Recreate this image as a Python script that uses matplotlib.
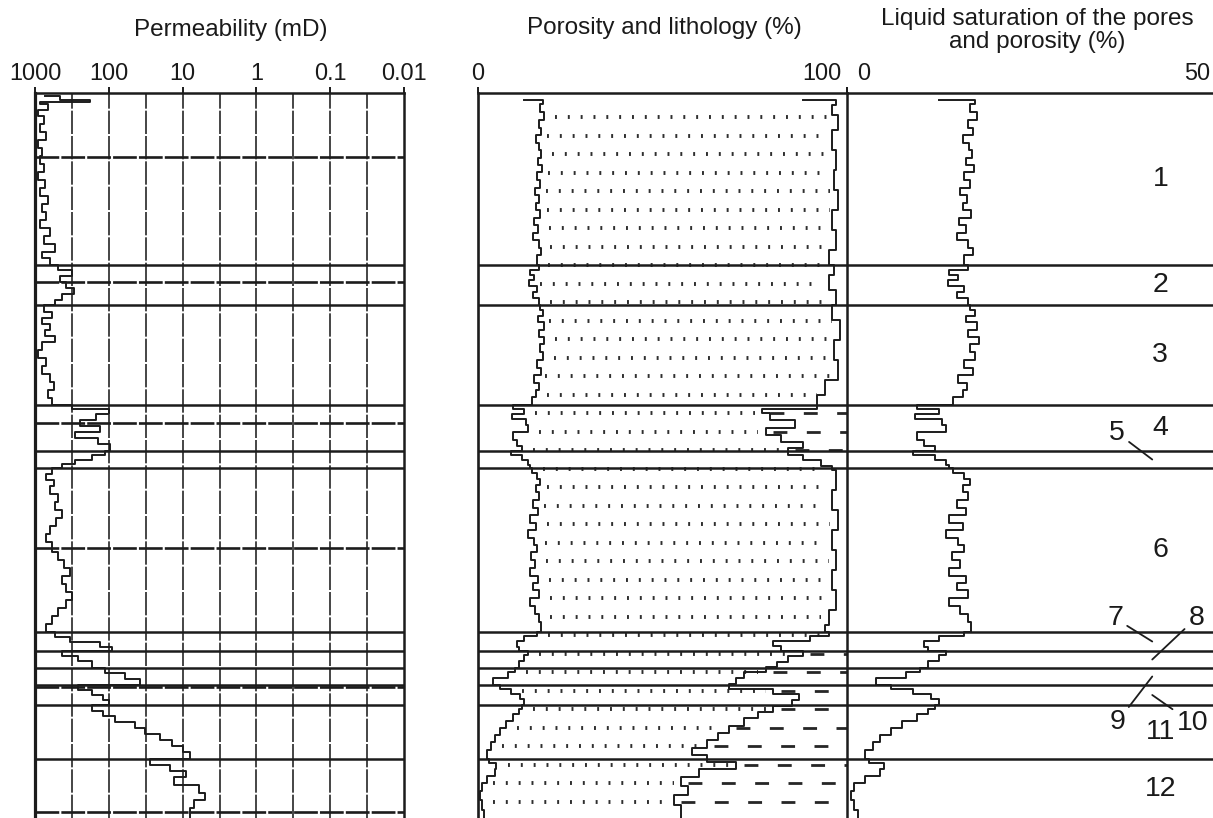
import numpy as np
import matplotlib
matplotlib.use("Agg")
import matplotlib.pyplot as plt
from matplotlib.ticker import NullLocator

plt.rcParams['font.family'] = ['Liberation Sans', 'DejaVu Sans']

# ------------------------------------------------------------------ data
perm_ticks = [1000, 100, 10, 1, 0.1, 0.01]
perm_tick_labels = ["1000", "100", "10", "1", "0.1", "0.01"]
por_ticks = [0, 100]
sat_ticks = [0, 50]

zone_names = ["1", "2", "3", "4", "5", "6", "7", "8", "9", "10", "11", "12"]
zone_tops = [0.0, 17.2, 21.2, 31.2, 35.8, 37.5, 53.9, 55.8, 57.5, 59.2, 61.2, 66.6]
zone_bottom = 72.5

# permeability log (mD) vs depth
perm_depth = [0.3, 0.7, 0.9, 1.1, 1.7, 2.3, 3.1, 3.9, 4.7, 5.5, 6.3, 7.1, 7.9, 8.7,
              9.5, 10.3, 11.1, 11.9, 12.7, 13.5, 14.3, 15.1, 15.9, 16.5, 17.2,
              17.7, 18.3, 18.9, 19.5, 20.1, 20.7, 21.2,
              21.9, 22.5, 23.1, 23.7, 24.3, 24.9, 25.7, 26.5, 27.3, 28.1, 28.9,
              29.7, 30.5, 31.2,
              31.6, 32.1, 32.7, 33.3, 33.9, 34.5, 35.1, 35.8,
              36.2, 36.7, 37.1, 37.5,
              38.1, 38.7, 39.3, 40.1, 40.9, 41.7, 42.5, 43.3, 44.1, 44.9, 45.9,
              46.7, 47.5, 48.3, 49.1, 49.9, 50.7, 51.5, 52.3, 53.1, 53.9,
              54.4, 54.9, 55.4, 55.8,
              56.3, 56.8, 57.5,
              58.0, 58.6, 59.2,
              59.7, 60.2, 60.7, 61.2,
              61.8, 62.3, 62.9, 63.5, 64.1, 64.7, 65.3, 65.9, 66.6,
              67.2, 67.8, 68.4, 69.2, 70.0, 70.7, 71.5, 72.5]
perm_md = [732, 458, 180, 855, 667, 910, 760, 855, 710, 910, 804, 855, 760, 910,
           732, 855, 667, 804, 710, 855, 627, 760, 536, 804, 627,
           488, 315, 458, 380, 296, 430, 536,
           760, 590, 804, 627, 732, 536, 804, 910, 710, 804, 627,
           550, 667, 590,
           315, 100, 150, 245, 132, 287, 140, 96,
           112, 170, 287, 430,
           590, 710, 550, 627, 488, 536, 430, 520, 627, 710, 590,
           488, 400, 336, 430, 380, 315, 380, 488, 590, 710,
           536, 336, 132, 90,
           430, 260, 170,
           112, 60, 38,
           260, 170, 120, 100,
           170, 120, 82, 44, 32, 20, 14, 10, 8,
           28, 15, 9, 13, 6, 5, 7, 8]
# depths of impermeable samples (drawn across the whole permeability track)
tight_depth = [6.4, 18.9, 33.0, 45.5, 59.4, 71.9]

# porosity (%) vs depth
phi_depth = [0.7, 1.1, 1.9, 2.7, 3.5, 4.2, 5.0, 5.7, 6.5, 7.2, 7.9, 8.7, 9.5, 10.2,
             11.0, 11.7, 12.5, 13.2, 14.0, 14.7, 15.5, 16.2, 17.2,
             17.7, 18.2, 18.7, 19.3, 19.9, 20.5, 21.2,
             21.7, 22.3, 22.9, 23.7, 24.4, 25.1, 25.9, 26.7, 27.5, 28.2, 29.0,
             29.7, 30.4, 31.2,
             31.6, 32.1, 32.6, 33.2, 33.9, 34.7, 35.3, 35.8,
             36.2, 36.7, 37.2, 37.5,
             38.0, 38.6, 39.2, 39.9, 40.7, 41.5, 42.2, 43.0, 43.7, 44.5, 45.2,
             45.9, 46.7, 47.5, 48.3, 49.0, 49.7, 50.5, 51.3, 52.1, 52.9, 53.9,
             54.3, 54.8, 55.4, 55.8,
             56.2, 56.8, 57.5,
             57.9, 58.5, 59.2,
             59.6, 60.1, 60.6, 61.2,
             61.6, 62.1, 62.8, 63.5, 64.2, 64.9, 65.7, 66.6,
             67.0, 67.6, 68.3, 69.0, 69.8, 70.7, 71.7, 72.5]
phi_pct = [12.5, 17.5, 16.8, 17.8, 16.5, 17.2, 15.8, 16.6, 17.1, 16.2, 17.3, 16.0,
           16.8, 15.5, 16.4, 15.8, 16.9, 15.3, 16.2, 15.0, 16.5, 17.2, 16.0,
           16.5, 14.0, 15.2, 13.8, 16.0, 15.0, 16.5,
           16.8, 17.5, 16.2, 17.8, 16.5, 18.0, 16.8, 17.5, 16.0, 17.2, 15.2,
           16.4, 15.8, 14.5,
           9.5, 12.5, 9.3, 13.0, 13.5, 9.5, 10.5, 12.0,
           9.0, 12.0, 13.5, 14.0,
           14.5, 16.0, 16.8, 15.8, 16.5, 15.0, 16.2, 14.0, 15.8, 13.5, 15.2,
           16.0, 14.3, 15.5, 14.0, 16.2, 15.0, 16.5, 14.0, 15.5, 16.5, 17.0,
           16.0, 12.5, 10.5, 11.0,
           13.5, 12.5, 11.0,
           10.0, 8.0, 4.0,
           6.0, 9.0, 11.5, 12.5,
           12.0, 11.0, 9.5, 7.5, 6.0, 4.5, 3.5, 2.5,
           3.0, 5.0, 4.5, 2.5, 1.0, 0.5, 1.0, 1.5]

# limit between sandstone and clay (%) vs depth
clay_depth = [0.7, 1.2, 2.2, 3.7, 5.7, 7.7, 9.7, 11.7, 13.7, 15.7, 17.2,
              18.2, 19.7, 21.2, 22.7, 24.7, 26.7, 28.7, 30.2, 31.2,
              31.6, 32.0, 32.7, 33.5, 34.2, 34.9, 35.5,
              36.2, 36.7, 37.3,
              37.7, 39.7, 41.7, 43.7, 45.7, 47.7, 49.7, 51.7, 53.2, 53.9,
              54.3, 54.8, 55.3, 55.8,
              56.3, 56.9, 57.4,
              57.9, 58.5, 59.1,
              59.6, 60.1, 60.7, 61.3,
              61.9, 62.5, 63.3, 64.0, 64.7, 65.5, 66.2,
              66.9, 67.6, 68.4, 69.3, 70.2, 71.2, 72.5]
sand_limit_pct = [88, 97, 96, 97.5, 96, 97, 96.5, 97.5, 96, 97, 95,
                  96.5, 95, 97, 96, 98, 96.5, 97.5, 94, 92,
                  92, 77, 79, 86, 78, 82, 88,
                  84, 88, 93,
                  96, 97, 96, 97.5, 96, 97, 96, 97, 95, 94,
                  95, 90, 80, 82,
                  88, 84, 81,
                  78, 72, 70,
                  68, 80, 87, 85,
                  80, 76, 72, 68, 65, 62, 58,
                  62, 70, 60, 55, 57, 53, 55]

# ------------------------------------------------------------------ figure
W, H = 1213, 818
fig = plt.figure(figsize=(W / 100, H / 100), dpi=100)
fig.patch.set_facecolor('white')


def rect(x0, x1, y0=93, y1=818):
    return [x0 / W, 1 - y1 / H, (x1 - x0) / W, (y1 - y0) / H]


def fx(px):
    return px / W


def fy(py):
    return 1 - py / H


ax_k = fig.add_axes(rect(35, 404))
ax_p = fig.add_axes(rect(478, 847), sharey=ax_k)
ax_s = fig.add_axes(rect(847, 1213), sharey=ax_k)

ink = '#1c1c1c'
curve_kw = dict(drawstyle='steps-post', color=ink, lw=1.4)

# permeability track
ax_k.set_xscale('log')
ax_k.set_xlim(1000, 0.01)
ax_k.set_ylim(zone_bottom, 0)
ax_k.xaxis.set_minor_locator(NullLocator())
grid_kw = dict(color='#262626', lw=1.2, linestyle=(0, (14, 1.2)), zorder=1)
for t in perm_ticks[1:-1]:
    ax_k.axvline(t, **grid_kw)
for a, b in zip(perm_ticks[:-1], perm_ticks[1:]):
    ax_k.axvline(np.sqrt(a * b), **grid_kw)
ax_k.hlines(tight_depth, perm_ticks[0], perm_ticks[-1], color=ink, lw=1.9,
            linestyle=(0, (9, 0.8)), zorder=3)
ax_k.plot(perm_md, perm_depth, zorder=4, **curve_kw)

# porosity & lithology track
ax_p.set_xlim(por_ticks[0], por_ticks[-1])


def step_value(depths, values, d):
    idx = np.clip(np.searchsorted(depths, d, side='left'), 0, len(values) - 1)
    return np.asarray(values, dtype=float)[idx]


row_depths = np.arange(2.4, zone_bottom, 1.85)
for rd in row_depths:
    phi = step_value(phi_depth, phi_pct, rd)
    lim = step_value(clay_depth, sand_limit_pct, rd)
    ax_p.plot([phi + 3, lim - 2], [rd, rd], color='#2e2e2e', lw=2.8,
              linestyle=(0, (0.5, 2.8)), zorder=2)
    if lim < 93:
        ax_p.plot([lim + 2, 100], [rd, rd], color='#262626', lw=2.0,
                  linestyle=(0, (5, 7)), zorder=2)
ax_p.plot(phi_pct, phi_depth, zorder=4, **curve_kw)
ax_p.plot(sand_limit_pct, clay_depth, zorder=4, **curve_kw)

# saturation / porosity track
ax_s.set_xlim(sat_ticks[0], sat_ticks[-1])
ax_s.plot(phi_pct, phi_depth, zorder=4, **curve_kw)

# zone boundaries
for ax in (ax_k, ax_p, ax_s):
    for z in zone_tops[1:]:
        ax.axhline(z, color=ink, lw=1.8, zorder=5)

# axes styling
for ax in (ax_k, ax_p, ax_s):
    ax.set_facecolor('none')
    ax.tick_params(axis='y', left=False, right=False, labelleft=False)
    ax.xaxis.set_ticks_position('top')
    ax.tick_params(axis='x', which='major', top=True, bottom=False,
                   labeltop=False, labelbottom=False, length=4, width=1.4,
                   direction='out', color=ink)
    ax.spines['bottom'].set_visible(False)
    ax.spines['top'].set_linewidth(1.8)
    for s in ax.spines.values():
        s.set_color(ink)

ax_k.set_xticks(perm_ticks)
ax_k.spines['left'].set_linewidth(2.3)
ax_k.spines['right'].set_linewidth(1.8)
ax_p.set_xticks(por_ticks)
ax_p.spines['left'].set_linewidth(1.9)
ax_p.spines['right'].set_linewidth(1.8)
ax_s.set_xticks(sat_ticks[:1])
ax_s.spines['left'].set_visible(False)
ax_s.spines['right'].set_visible(False)

tick_fs = 16.8
lab_kw = dict(xycoords=('data', 'axes fraction'), textcoords='offset points',
              va='baseline', fontsize=tick_fs, color='#1a1a1a')
for t, lab in zip(perm_ticks, perm_tick_labels):
    ax_k.annotate(lab, xy=(t, 1), xytext=(0, 9.4), ha='center', **lab_kw)
ax_p.annotate(str(por_ticks[0]), xy=(por_ticks[0], 1), xytext=(0, 9.4), ha='center', **lab_kw)
ax_p.annotate(str(por_ticks[1]), xy=(por_ticks[1], 1), xytext=(-3.6, 9.4), ha='right', **lab_kw)
ax_s.annotate(str(sat_ticks[0]), xy=(sat_ticks[0], 1), xytext=(7.2, 9.4), ha='left', **lab_kw)
ax_s.annotate(str(sat_ticks[1]), xy=(sat_ticks[1], 1), xytext=(-2.2, 9.4), ha='right', **lab_kw)

# titles
title_kw = dict(fontsize=17.5, color='#1a1a1a', ha='center', va='baseline')
fig.text(fx(231), fy(36), "Permeability (mD)", **title_kw)
fig.text(fx(664), fy(34), "Porosity and lithology (%)", **title_kw)
fig.text(fx(1037), fy(25), "Liquid saturation of the pores", **title_kw)
fig.text(fx(1037), fy(48), "and porosity (%)", **title_kw)

# zone labels
zone_bounds = zone_tops + [zone_bottom]
zone_mid = [(a + b) / 2 for a, b in zip(zone_bounds[:-1], zone_bounds[1:])]
label_x = 42.8
leader_x = 41.7
leader_offsets = {"5": (-25.2, 19.1), "7": (-26.6, 16.6), "8": (31.7, 29.9),
                  "9": (-25.2, -32.8), "10": (28.8, -20.2)}
for name, mid in zip(zone_names, zone_mid):
    if name in leader_offsets:
        ax_s.annotate(name, xy=(leader_x, mid), xytext=leader_offsets[name],
                      textcoords='offset points', ha='center', va='center',
                      fontsize=20.5, color='#1a1a1a',
                      arrowprops=dict(arrowstyle='-', color=ink, lw=1.3,
                                      shrinkA=1, shrinkB=0))
    else:
        ax_s.text(label_x, mid, name, ha='center', va='center', fontsize=20.5,
                  color='#1a1a1a')

fig.savefig('out.png', dpi=100, facecolor='white')
